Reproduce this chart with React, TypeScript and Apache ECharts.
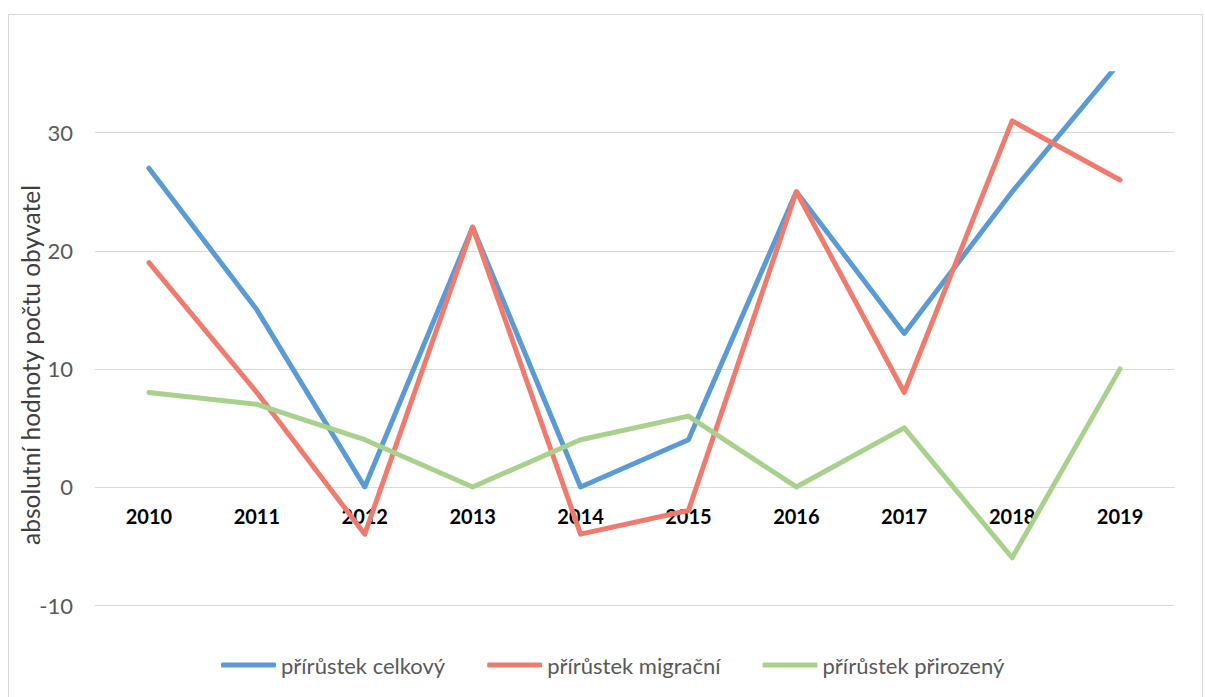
import React, { useEffect, useRef } from "react";
import * as echarts from "echarts";

const years = ["2010", "2011", "2012", "2013", "2014", "2015", "2016", "2017", "2018", "2019"];
const celkovy = [27, 15, 0, 22, 0, 4, 25, 13, 25, 36];
const migracni = [19, 8, -4, 22, -4, -2, 25, 8, 31, 26];
const prirozeny = [8, 7, 4, 0, 4, 6, 0, 5, -6, 10];
const seriesNames = ["přírůstek celkový", "přírůstek migrační", "přírůstek přirozený"];
const colors = ["#5B9BD5", "#EF7B6F", "#A9D18E"];
const yTitle = "absolutní hodnoty počtu obyvatel";

const FONT = "Lato, 'Noto Sans', sans-serif";

export default function App() {
  const ref = useRef<HTMLDivElement>(null);
  useEffect(() => {
    if (!ref.current) return;
    const chart = echarts.init(ref.current, undefined, { renderer: "svg" });
    const mk = (name: string, data: number[], color: string) => ({
      name,
      type: "line",
      data,
      showSymbol: false,
      symbol: "none",
      clip: true,
      lineStyle: { color, width: 5, cap: "round", join: "round" },
      itemStyle: { color },
    });
    chart.setOption({
      animation: false,
      backgroundColor: "#ffffff",
      textStyle: { fontFamily: FONT },
      grid: { left: 95, right: 31, top: 73.7, bottom: 92, containLabel: false },
      xAxis: {
        type: "category",
        data: years,
        boundaryGap: true,
        offset: -118.2,
        axisLine: { show: true, onZero: false, lineStyle: { color: "#d9d9d9", width: 1 } },
        axisTick: { show: false },
        axisLabel: { color: "#000000", fontWeight: "bold", fontSize: 20, margin: 19, fontFamily: FONT },
        splitLine: { show: false },
        z: 1,
      },
      yAxis: {
        type: "value",
        min: -10,
        max: 35,
        interval: 10,
        axisLine: { show: false },
        axisTick: { show: false },
        axisLabel: { color: "#595959", fontSize: 22, margin: 22, showMaxLabel: false, fontFamily: FONT },
        splitLine: { show: true, showMaxLine: false, lineStyle: { color: "#d9d9d9", width: 1 } },
      },
      legend: {
        left: 216,
        top: 649,
        icon: "roundRect",
        itemWidth: 55,
        itemHeight: 5,
        itemGap: 42,
        data: seriesNames,
        textStyle: { color: "#595959", fontSize: 22, fontFamily: FONT },
      },
      graphic: [
        {
          type: "rect",
          shape: { x: 8.5, y: 14.5, width: 1194, height: 700 },
          style: { fill: "none", stroke: "#d9d9d9", lineWidth: 1 },
          silent: true,
          z: -10,
        },
        {
          type: "text",
          x: 30,
          y: 365,
          rotation: Math.PI / 2,
          style: {
            text: yTitle,
            fill: "#404040",
            fontSize: 24.5,
            fontFamily: FONT,
            textAlign: "center",
            textVerticalAlign: "middle",
          },
        },
      ],
      series: [
        mk(seriesNames[0], celkovy, colors[0]),
        mk(seriesNames[1], migracni, colors[1]),
        mk(seriesNames[2], prirozeny, colors[2]),
      ],
    });
    return () => chart.dispose();
  }, []);
  return <div ref={ref} style={{ position: "fixed", left: 0, top: 0, width: 1205, height: 697 }} />;
}
